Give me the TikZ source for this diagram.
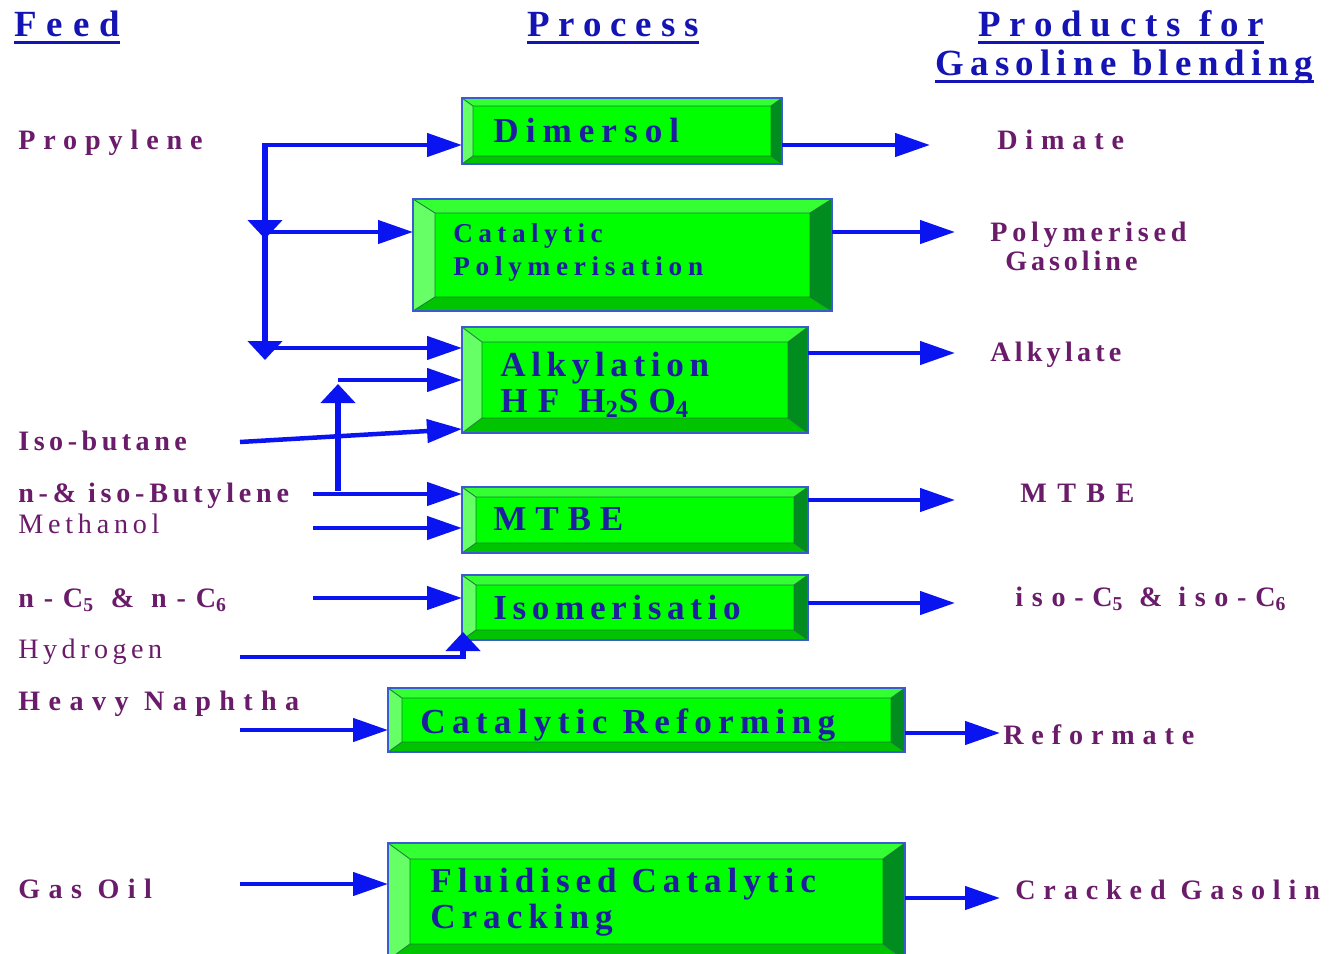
\documentclass[tikz,border=0pt]{standalone}
\usepackage{fontspec}
\setmainfont{Liberation Serif}
\usetikzlibrary{arrows.meta,calc,fit}
\definecolor{flowblue}{HTML}{0A14F0}
\definecolor{lblpurple}{HTML}{6A1B6A}
\definecolor{boxtext}{HTML}{1E1EA0}
\definecolor{hdrblue}{HTML}{1414B4}
\definecolor{gmid}{HTML}{00FF00}
\definecolor{gtop}{HTML}{33FF33}
\definecolor{gleft}{HTML}{66FF66}
\definecolor{gbot}{HTML}{00C400}
\definecolor{gright}{HTML}{008C1E}
\definecolor{gline}{HTML}{1E7A3C}
\definecolor{pframe}{HTML}{3C5AD2}
\tikzset{
  flowline/.style={draw=flowblue, line width=0.09cm},
  vline/.style={draw=flowblue, line width=0.12cm},
  flow/.style={flowline, -{Triangle[length=0.7cm,width=0.46cm]}},
  vflow/.style={vline, -{Triangle[length=0.38cm,width=0.68cm]}},
  lbl/.style={anchor=base west, inner sep=0pt, text=lblpurple, font=\bfseries\fontsize{16}{18}\selectfont\addfontfeature{LetterSpace=#1}},
  lblr/.style={anchor=base west, inner sep=0pt, text=lblpurple, font=\fontsize{16}{18}\selectfont\addfontfeature{LetterSpace=#1}},
  boxlbl/.style={anchor=base west, inner sep=0pt, text=boxtext, font=\bfseries\fontsize{20}{22}\selectfont\addfontfeature{LetterSpace=#1}},
  boxlbls/.style={anchor=base west, inner sep=0pt, text=boxtext, font=\bfseries\fontsize{15.5}{17}\selectfont\addfontfeature{LetterSpace=#1}},
  hdr/.style={anchor=base west, inner sep=0pt, text=hdrblue, font=\bfseries\fontsize{21}{23}\selectfont\addfontfeature{LetterSpace=#1}},
  uline/.style={draw=hdrblue, line width=0.06cm}
}
\newcommand{\pbox}[7]{%
  \node[fit={(#2,#3)(#4,#5)}, inner sep=0pt, outer sep=0pt] (#1) {};
  \coordinate (#1-a) at ($(#1.north west)+(#6,#7)$);
  \coordinate (#1-b) at ($(#1.north east)+(-#6,#7)$);
  \coordinate (#1-c) at ($(#1.south east)+(-#6,-#7)$);
  \coordinate (#1-d) at ($(#1.south west)+(#6,-#7)$);
  \fill[gtop] (#1.north west)--(#1.north east)--(#1-b)--(#1-a)--cycle;
  \fill[gright] (#1.north east)--(#1.south east)--(#1-c)--(#1-b)--cycle;
  \fill[gbot] (#1.south east)--(#1.south west)--(#1-d)--(#1-c)--cycle;
  \fill[gleft] (#1.south west)--(#1.north west)--(#1-a)--(#1-d)--cycle;
  \fill[gmid] (#1-a)--(#1-b)--(#1-c)--(#1-d)--cycle;
  \draw[gline, line width=0.5pt] (#1-a)--(#1-b)--(#1-c)--(#1-d)--cycle
    (#1.north west)--(#1-a) (#1.north east)--(#1-b)
    (#1.south east)--(#1-c) (#1.south west)--(#1-d);
  \draw[pframe, line width=0.8pt] (#1.north west) rectangle (#1.south east);
}
\begin{document}
\begin{tikzpicture}[x=0.02cm, y=-0.02cm]
\useasboundingbox (0,0) rectangle (1330,954);
\clip (0,0) rectangle (1330,954);
% headers
\node[hdr=27] (hfeed) at (14,36) {Feed};
\node[hdr=24] (hproc) at (527,36) {Process};
\node[hdr=24] (hprod1) at (978,36) {Products for};
\node[hdr=17] (hprod2) at (935,75) {Gasoline blending};
\draw[uline] ($(hfeed.base west)+(0,6)$) -- ($(hfeed.base east)+(0,6)$);
\draw[uline] ($(hproc.base west)+(0,6)$) -- ($(hproc.base east)+(0,6)$);
\draw[uline] ($(hprod1.base west)+(0,6)$) -- ($(hprod1.base east)+(0,6)$);
\draw[uline] ($(hprod2.base west)+(0,6)$) -- ($(hprod2.base east)+(0,6)$);
% process boxes
\pbox{dim}{462}{98}{782}{164}{11}{8}
\pbox{poly}{413}{199}{832}{311}{22}{14}
\pbox{alk}{462}{327}{808}{433}{20}{15}
\pbox{mtbe}{462}{487}{808}{553}{14}{10}
\pbox{iso}{462}{575}{808}{640}{14}{10}
\pbox{ref}{388}{688}{905}{752}{14}{10}
\pbox{fcc}{388}{843}{905}{960}{22}{16}
\node[boxlbl=20] (tdim) at (493,142) {Dimersol};
\node[boxlbls=20] (tpoly1) at (453,242) {Catalytic};
\node[boxlbls=21] (tpoly2) at (453,275) {Polymerisation};
\node[boxlbl=16] (talk1) at (500,376) {Alkylation};
\node[boxlbl=29] (talk2) at (500,412) {HF H\textsubscript{2}SO\textsubscript{4}};
\node[boxlbl=25] (tmtbe) at (493,530) {MTBE};
\node[boxlbl=16] (tiso) at (493,619) {Isomerisatio};
\node[boxlbl=18] (tref) at (420,733) {Catalytic Reforming};
\node[boxlbl=17] (tfcc1) at (430,892) {Fluidised Catalytic};
\node[boxlbl=17] (tfcc2) at (430,928) {Cracking};
% feeds
\node[lbl=28] (propylene) at (18,149) {Propylene};
\node[lbl=16] (isobutane) at (18,450) {Iso-butane};
\node[lbl=17] (butylene) at (18,502) {n-\& iso-Butylene};
\node[lblr=17] (methanol) at (18,533) {Methanol};
\node[lbl=35] (nc) at (18,607) {n-C\textsubscript{5} \& n-C\textsubscript{6}};
\node[lblr=16] (hydrogen) at (18,658) {Hydrogen};
\node[lbl=30] (naphtha) at (18,710) {Heavy Naphtha};
\node[lbl=30] (gasoil) at (18,898) {Gas Oil};
% products
\node[lbl=28] (dimate) at (997,149) {Dimate};
\node[lbl=17] (polyg1) at (990,241) {Polymerised};
\node[lbl=14] (polyg2) at (1005,270) {Gasoline};
\node[lbl=15] (alkylate) at (990,361) {Alkylate};
\node[lbl=37] (pmtbe) at (1020,502) {MTBE};
\node[lbl=31] (isoc) at (1015,606) {iso-C\textsubscript{5} \& iso-C\textsubscript{6}};
\node[lbl=28] (reformate) at (1003,744) {Reformate};
\node[lbl=28] (cracked) at (1015,899) {Cracked Gasolin};
% feed connectors
\coordinate (pj1) at (265,145);
\coordinate (pj2) at (265,232);
\coordinate (pj3) at (265,348);
\draw[vline] (265,143) -- (265,340);
\draw[vflow] (265,215) -- (265,239);
\draw[vflow] (265,330) -- (265,360);
\draw[flow] (pj1) -- (dim.west |- pj1);
\draw[flow] (pj2) -- (poly.west |- pj2);
\draw[flow] (pj3) -- (alk.west |- pj3);
\coordinate (ib) at (240,442);
\draw[flow] (ib) -- (alk.west |- 0,429);
\coordinate (bu) at (313,494);
\coordinate (bj) at (338,491);
\coordinate (bk) at (338,380);
\draw[flow] (bu) -- (mtbe.west |- bu);
\draw[vline] (bj) -- (338,395);
\draw[vflow] (338,410) -- (338,384);
\draw[flow] (bk) -- (alk.west |- bk);
\coordinate (me) at (313,528);
\draw[flow] (me) -- (mtbe.west |- me);
\coordinate (nf) at (313,598);
\draw[flow] (nf) -- (iso.west |- nf);
\coordinate (hy) at (240,657);
\coordinate (hk) at (465,657);
\draw[flowline] (hy) -- (hk);
\draw[vflow] (463,659) -- (463,632);
\coordinate (hn) at (240,730);
\draw[flow] (hn) -- (ref.west |- hn);
\coordinate (go) at (240,884);
\draw[flow] (go) -- (fcc.west |- go);
% product connectors
\coordinate (o1) at (930,145);
\draw[flow] (dim.east |- o1) -- (o1);
\coordinate (o2) at (955,232);
\draw[flow] (poly.east |- o2) -- (o2);
\coordinate (o3) at (955,353);
\draw[flow] (alk.east |- o3) -- (o3);
\coordinate (o4) at (955,500);
\draw[flow] (mtbe.east |- o4) -- (o4);
\coordinate (o5) at (955,603);
\draw[flow] (iso.east |- o5) -- (o5);
\coordinate (o6) at (1000,733);
\draw[flow] (ref.east |- o6) -- (o6);
\coordinate (o7) at (1000,898);
\draw[flow] (fcc.east |- o7) -- (o7);
\end{tikzpicture}
\end{document}
